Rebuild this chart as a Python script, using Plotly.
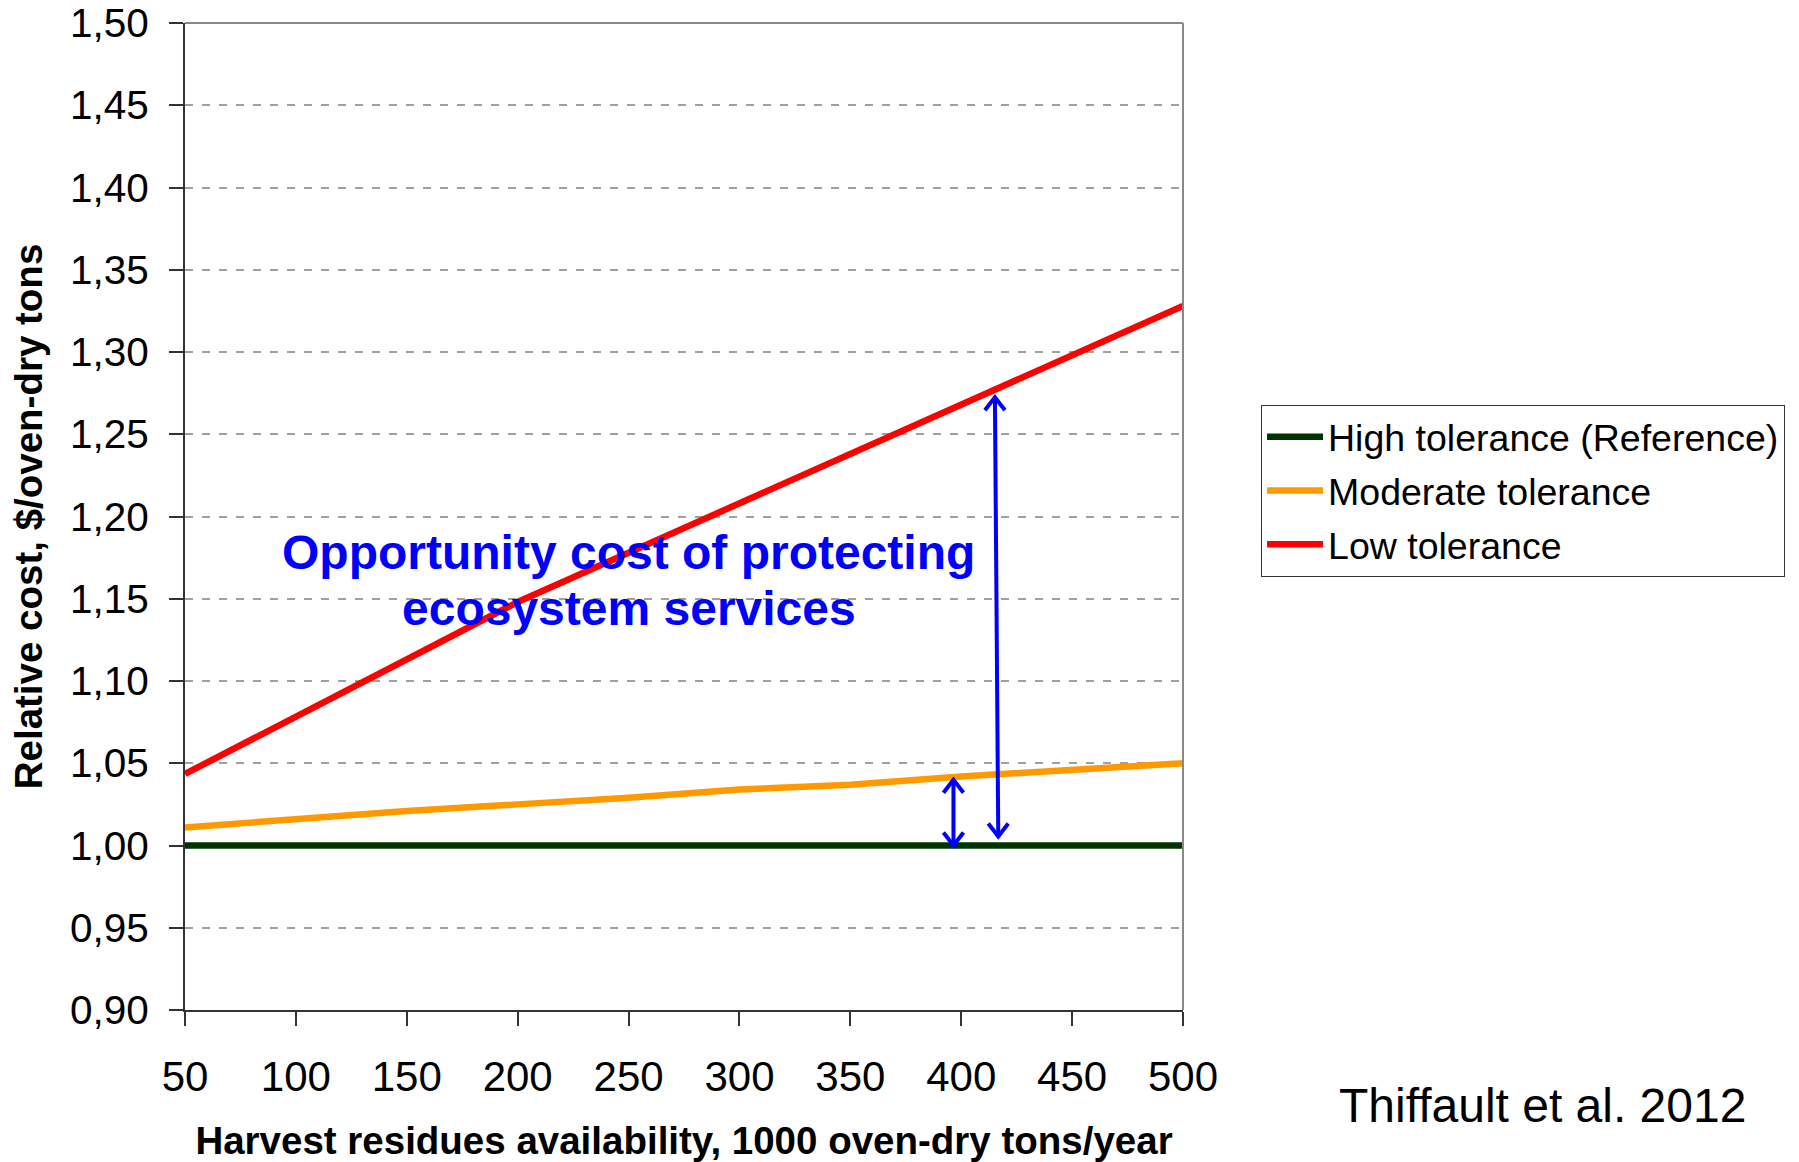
import plotly.graph_objects as go

# Harvest residues availability (1000 oven-dry tons/year)
availability = [50, 100, 150, 200, 250, 300, 350, 400, 450, 500]

# Relative cost ($/oven-dry ton) for each retention scenario
high_tolerance = [1.000, 1.000, 1.000, 1.000, 1.000, 1.000, 1.000, 1.000, 1.000, 1.000]
moderate_tolerance = [1.011, 1.016, 1.021, 1.025, 1.029, 1.034, 1.037, 1.042, 1.046, 1.050]
low_tolerance = [1.0435, 1.078, 1.113, 1.148, 1.178, 1.208, 1.238, 1.269, 1.299, 1.328]

series_names = ["High tolerance (Reference)", "Moderate tolerance", "Low tolerance"]
series_values = [high_tolerance, moderate_tolerance, low_tolerance]
series_colors = ["#003300", "#FF9900", "#FF0000"]

x_ticks = [50, 100, 150, 200, 250, 300, 350, 400, 450, 500]
y_ticks = [0.90, 0.95, 1.00, 1.05, 1.10, 1.15, 1.20, 1.25, 1.30, 1.35, 1.40, 1.45, 1.50]
y_tick_labels = ["0,90", "0,95", "1,00", "1,05", "1,10", "1,15", "1,20",
                 "1,25", "1,30", "1,35", "1,40", "1,45", "1,50"]

# Double-headed arrows showing the cost gap to the reference (bottom, top)
gap_arrows_x = [[396.5, 396.5], [416.7, 415.2]]
gap_arrows_y = [[1.000, 1.040], [1.0055, 1.2725]]

note_lines = ["Opportunity cost of protecting", "ecosystem services"]
note_x = 250
note_y = [1.178, 1.144]
citation = "Thiffault et al. 2012"

FONT = "Liberation Sans, Arial, sans-serif"
ARROW_BLUE = "#0000FF"

fig = go.Figure()
for i, (name, vals, col) in enumerate(zip(series_names, series_values, series_colors)):
    fig.add_trace(go.Scatter(
        x=availability, y=vals, name=name, mode="lines",
        line=dict(color=col, width=6.5), legendgroup=f"g{i}",
    ))

shapes = []
for xs, ys in zip(gap_arrows_x, gap_arrows_y):
    shapes.append(dict(type="line", xref="x", yref="y", x0=xs[0], y0=ys[0], x1=xs[1], y1=ys[1],
                       line=dict(color=ARROW_BLUE, width=4), layer="above"))
    # open chevron heads at both ends (pixel-sized, anchored on the tips)
    shapes.append(dict(type="path", xref="x", yref="y", xsizemode="pixel", ysizemode="pixel",
                       xanchor=xs[0], yanchor=ys[0], path="M -10 13 L 0 0 L 10 13",
                       line=dict(color=ARROW_BLUE, width=4), layer="above"))
    shapes.append(dict(type="path", xref="x", yref="y", xsizemode="pixel", ysizemode="pixel",
                       xanchor=xs[1], yanchor=ys[1], path="M -10 -13 L 0 0 L 10 -13",
                       line=dict(color=ARROW_BLUE, width=4), layer="above"))

# grey frame on the top and right sides of the plot area
shapes.append(dict(type="line", xref="paper", yref="paper", x0=0, y0=1, x1=1, y1=1,
                   line=dict(color="#888888", width=2)))
shapes.append(dict(type="line", xref="paper", yref="paper", x0=1, y0=0, x1=1, y1=1,
                   line=dict(color="#888888", width=2)))

annotations = []
for line_text, yy in zip(note_lines, note_y):
    annotations.append(dict(x=note_x, y=yy, xref="x", yref="y", text=line_text,
                            showarrow=False, xanchor="center", yanchor="middle",
                            font=dict(family=FONT, size=48, color=ARROW_BLUE, weight="bold")))
annotations.append(dict(x=1.3607, y=-0.097, xref="paper", yref="paper", text=citation,
                        showarrow=False, xanchor="center", yanchor="middle",
                        font=dict(family=FONT, size=48, color="black")))

fig.update_layout(
    width=1799, height=1162,
    margin=dict(l=185, r=616, t=23, b=152, autoexpand=False),
    paper_bgcolor="white", plot_bgcolor="white",
    font=dict(family=FONT, color="black"),
    showlegend=True,
    legend=dict(
        x=1.0782, y=0.6132, xanchor="left", yanchor="top",
        font=dict(family=FONT, size=37.5, color="black"),
        bordercolor="#333333", borderwidth=1, bgcolor="white",
        tracegroupgap=2, traceorder="grouped", itemwidth=56,
    ),
    shapes=shapes,
    annotations=annotations,
)

fig.update_xaxes(
    range=[50, 500], tickvals=x_ticks, showgrid=False, zeroline=False, automargin=False,
    showline=True, linecolor="#333333", linewidth=2,
    ticks="outside", ticklen=14, tickwidth=1.5, tickcolor="#333333",
    tickfont=dict(family=FONT, size=42, color="black"), ticklabelstandoff=15,
    title=dict(text="Harvest residues availability, 1000 oven-dry tons/year",
               font=dict(family=FONT, size=38.5, color="black", weight="bold"), standoff=42),
)
fig.update_yaxes(
    range=[0.90, 1.50], tickvals=y_ticks, ticktext=y_tick_labels, automargin=False,
    showgrid=True, gridcolor="#A0A0A0", gridwidth=1.5, griddash="8px,9px", zeroline=False,
    showline=True, linecolor="#333333", linewidth=2,
    ticks="outside", ticklen=14, tickwidth=1.5, tickcolor="#333333",
    tickfont=dict(family=FONT, size=40.5, color="black"), ticklabelstandoff=12,
    title=dict(text="Relative cost, $/oven-dry tons",
               font=dict(family=FONT, size=38.5, color="black", weight="bold"), standoff=16),
)

fig.write_html("out.html")
